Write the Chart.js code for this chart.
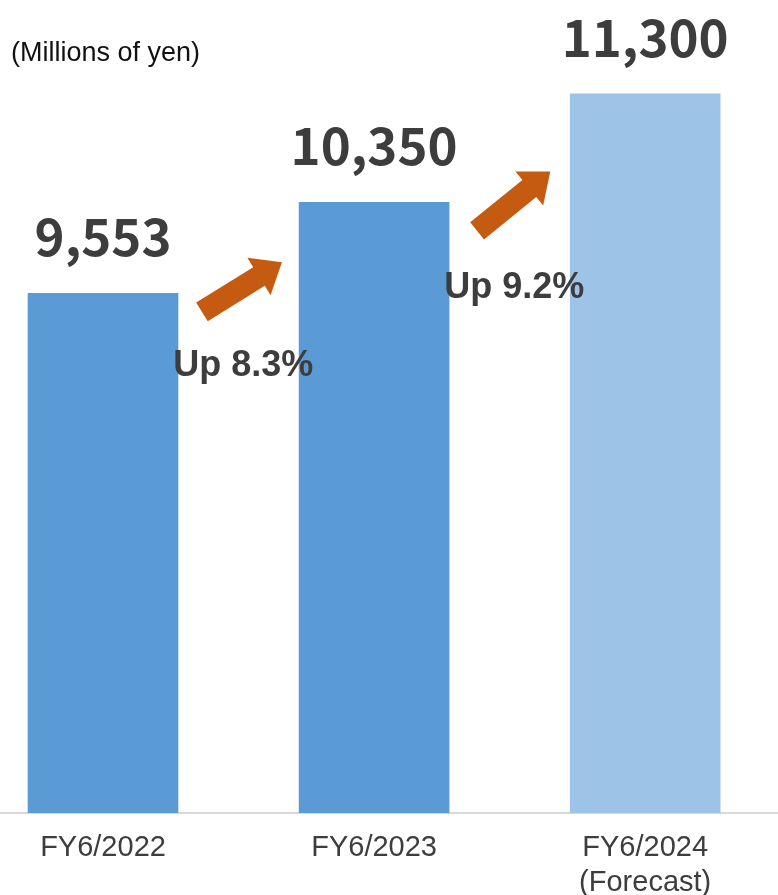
<!DOCTYPE html>
<html>
<head>
<meta charset="utf-8">
<title>Net sales</title>
<script src="https://cdn.jsdelivr.net/npm/chart.js@4"></script>
<style>
  html, body { margin: 0; padding: 0; background: #ffffff; }
  #wrap { position: relative; width: 778px; height: 895px; }
</style>
</head>
<body>
<div id="wrap"><canvas id="sales" width="778" height="895"></canvas></div>
<script>
  "use strict";

  const categories = [["FY6/2022"], ["FY6/2023"], ["FY6/2024", "(Forecast)"]];
  const sales = [9553, 10350, 11300];
  const barColors = ["#5B9BD5", "#5B9BD5", "#9DC3E6"];
  const growthLabels = ["Up 8.3%", "Up 9.2%"];
  // arrow tail / tip and label anchor, in axis units (x = category index, y = yen)
  const arrowTails = [[0.365, 9390], [1.38, 10100]];
  const arrowTips = [[0.66, 9825], [1.65, 10620]];
  const growthLabelPos = [[0.517, 8830], [1.517, 9510]];

  const labelColor = "#3d3d3d";

  const drawArrow = (ctx, x0, y0, x1, y1) => {
    const shaft = 11, headHalf = 22, headLen = 27;
    const len = Math.hypot(x1 - x0, y1 - y0);
    ctx.save();
    ctx.translate(x0, y0);
    ctx.rotate(Math.atan2(y1 - y0, x1 - x0));
    ctx.beginPath();
    ctx.moveTo(0, -shaft);
    ctx.lineTo(len - headLen, -shaft);
    ctx.lineTo(len - headLen, -headHalf);
    ctx.lineTo(len, 0);
    ctx.lineTo(len - headLen, headHalf);
    ctx.lineTo(len - headLen, shaft);
    ctx.lineTo(0, shaft);
    ctx.closePath();
    ctx.fillStyle = "#C55A11";
    ctx.fill();
    ctx.restore();
  };

  const annotations = {
    id: "annotations",
    afterDatasetsDraw(chart) {
      const { ctx, scales } = chart;
      const meta = chart.getDatasetMeta(0);

      // value labels above each bar
      ctx.save();
      ctx.fillStyle = labelColor;
      ctx.font = 'bold 51px "Noto Sans CJK JP"';
      ctx.textAlign = "center";
      ctx.textBaseline = "alphabetic";
      meta.data.forEach((bar, i) => {
        ctx.fillText(sales[i].toLocaleString("en-US"), bar.x, bar.y - 37);
      });
      ctx.restore();

      // growth arrows
      arrowTails.forEach((t, i) => {
        drawArrow(
          ctx,
          scales.x.getPixelForValue(t[0]), scales.y.getPixelForValue(t[1]),
          scales.x.getPixelForValue(arrowTips[i][0]), scales.y.getPixelForValue(arrowTips[i][1])
        );
      });

      // growth labels
      ctx.save();
      ctx.fillStyle = labelColor;
      ctx.font = 'bold 36px "Liberation Sans"';
      ctx.textAlign = "center";
      ctx.textBaseline = "alphabetic";
      growthLabels.forEach((txt, i) => {
        ctx.fillText(
          txt,
          scales.x.getPixelForValue(growthLabelPos[i][0]),
          scales.y.getPixelForValue(growthLabelPos[i][1])
        );
      });
      ctx.restore();

      // unit caption
      ctx.save();
      ctx.fillStyle = "#111111";
      ctx.font = '27px "Liberation Sans"';
      ctx.textAlign = "left";
      ctx.textBaseline = "alphabetic";
      ctx.fillText("(Millions of yen)", 11, 61);
      ctx.restore();
    },
  };

  new Chart(document.getElementById("sales"), {
    type: "bar",
    data: {
      datasets: [
        {
          data: sales.map((v, i) => ({ x: i, y: v })),
          backgroundColor: barColors,
          barThickness: 150,
          borderWidth: 0,
        },
      ],
    },
    options: {
      responsive: false,
      animation: false,
      layout: { padding: { top: 14, left: 0, right: 0, bottom: 0 } },
      plugins: {
        legend: { display: false },
        tooltip: { enabled: false },
      },
      scales: {
        x: {
          type: "linear",
          offset: false,
          min: -0.38,
          max: 2.49,
          afterBuildTicks: (axis) => {
            axis.ticks = categories.map((_, i) => ({ value: i }));
          },
          afterFit: (axis) => {
            axis.height = 82;
          },
          grid: { display: false, drawTicks: false },
          border: { display: true, color: "#d9d9d9", width: 2 },
          ticks: {
            autoSkip: false,
            maxRotation: 0,
            padding: 18,
            color: labelColor,
            font: { family: "Liberation Sans", size: 29, lineHeight: 1.2 },
            callback: (v) => categories[v],
          },
        },
        y: {
          display: false,
          min: 5000,
          max: 12000,
        },
      },
    },
    plugins: [annotations],
  });
</script>
</body>
</html>
